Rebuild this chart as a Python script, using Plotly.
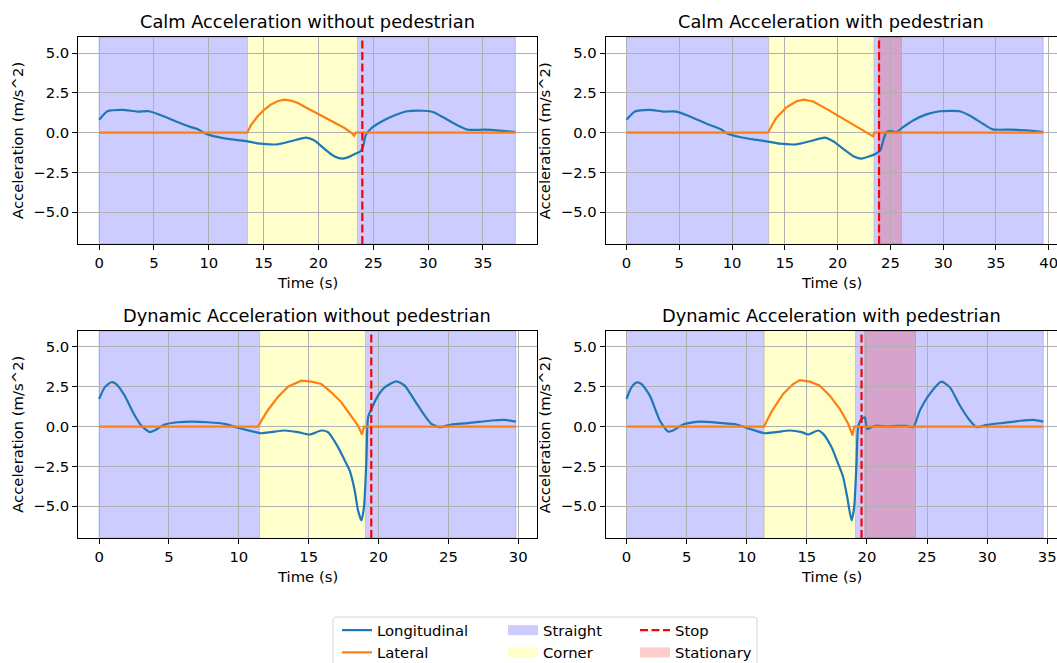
import plotly.graph_objects as go

W, H = 1057, 663

# ---------------- data ----------------
titles = ["Calm Acceleration without pedestrian", "Calm Acceleration with pedestrian",
          "Dynamic Acceleration without pedestrian", "Dynamic Acceleration with pedestrian"]

# Calm, without pedestrian
calm_np_lon_t = [0, 0.76, 2.13, 3.5, 4.56, 5.93, 7.14, 8.36, 8.96, 9.57, 10.18, 11.09, 12.31, 13.52, 14.44,
                 16.26, 17.47, 18.84, 19.6, 20.51, 21.43, 22.24, 22.79, 23.4, 23.86, 24.1, 24.3, 24.77, 25.68,
                 26.9, 28.1, 29.6, 30.5, 31.45, 32.7, 33.6, 35.1, 36.3, 37.95]
calm_np_lon_v = [0.81, 1.35, 1.44, 1.33, 1.35, 1.02, 0.67, 0.35, 0.23, 0.0, -0.17, -0.31, -0.44, -0.54, -0.67,
                 -0.73, -0.54, -0.31, -0.48, -1.0, -1.48, -1.63, -1.52, -1.31, -1.15, -0.79, -0.17, 0.25, 0.67,
                 1.08, 1.35, 1.38, 1.29, 0.94, 0.46, 0.19, 0.19, 0.15, 0.04]
calm_np_lat_t = [0, 13.5, 13.83, 14.44, 15.04, 15.65, 16.26, 16.87, 17.47, 18.08, 18.69, 19.15, 19.6, 20.51,
                 21.43, 22.34, 23.1, 23.25, 23.4, 37.95]
calm_np_lat_v = [0, 0, 0.46, 1.02, 1.44, 1.77, 1.98, 2.08, 2.02, 1.88, 1.65, 1.48, 1.35, 1.02,
                 0.67, 0.31, -0.06, -0.19, 0, 0]

# Calm, with pedestrian
calm_p_lon_t = [0, 0.79, 2.2, 3.47, 4.73, 6.0, 7.6, 8.84, 9.6, 10.73, 12.0, 13.25, 14.5, 16.1, 17.36, 18.78,
                19.57, 20.5, 21.6, 22.25, 23.04, 23.67, 24.05, 24.37, 24.62, 25.1, 25.57, 26.2, 27.15, 28.4,
                29.67, 31.56, 32.5, 33.77, 34.7, 36.3, 37.9, 39.47]
calm_p_lon_v = [0.81, 1.33, 1.44, 1.33, 1.33, 1.02, 0.56, 0.25, -0.06, -0.27, -0.42, -0.54, -0.69, -0.73, -0.54,
                -0.31, -0.54, -1.0, -1.52, -1.63, -1.48, -1.31, -1.1, -0.38, 0.04, 0.1, 0.04, 0.35, 0.77, 1.15,
                1.35, 1.35, 1.08, 0.56, 0.21, 0.19, 0.15, 0.04]
calm_p_lat_t = [0, 13.41, 13.8, 14.2, 15.15, 16.1, 16.8, 17.68, 18.94, 20.2, 21.47, 22.57, 23.36, 23.45, 39.47]
calm_p_lat_v = [0, 0, 0.5, 0.94, 1.6, 1.98, 2.08, 1.96, 1.5, 1.02, 0.52, 0.1, -0.23, 0, 0]

# Dynamic, without pedestrian
dyn_np_lon_t = [0, 0.4, 0.87, 1.23, 1.83, 2.42, 3.02, 3.62, 3.97, 4.69, 5.65, 6.6, 7.79, 8.98, 9.94, 10.9,
                11.6, 12.33, 13.28, 14.23, 15.07, 15.9, 16.38, 17.1, 17.58, 17.93, 18.29, 18.53, 18.77, 18.96,
                19.13, 19.25, 19.49, 19.96, 20.44, 21.28, 21.87, 22.59, 23.3, 23.78, 24.38, 25.2, 26.4, 28.07,
                29.0, 29.83]
dyn_np_lon_v = [1.73, 2.46, 2.78, 2.67, 1.94, 0.9, 0.06, -0.35, -0.25, 0.13, 0.27, 0.31, 0.27, 0.17, -0.08, -0.29,
                -0.42, -0.35, -0.25, -0.35, -0.5, -0.25, -0.35, -1.29, -2.13, -2.76, -4.0, -5.26, -5.89, -5.05,
                -2.13, 0.58, 1.1, 1.94, 2.46, 2.84, 2.57, 1.63, 0.69, 0.17, -0.04, 0.13, 0.21, 0.38,
                0.42, 0.31]
dyn_np_lat_t = [0, 11.37, 11.7, 12.09, 12.81, 13.52, 14.47, 15.19, 15.9, 16.62, 17.34, 18.05, 18.53, 18.82,
                18.96, 29.83]
dyn_np_lat_v = [0, 0, 0.5, 1.04, 1.88, 2.5, 2.88, 2.82, 2.67, 2.15, 1.52, 0.69, 0.06, -0.5, 0, 0]

# Dynamic, with pedestrian
dyn_p_lon_t = [0, 0.41, 0.83, 1.24, 1.94, 2.77, 3.46, 3.88, 4.71, 6.1, 7.76, 9.15, 10.26, 11.5, 12.48, 13.59,
               14.56, 15.11, 15.94, 16.36, 17.05, 17.61, 18.02, 18.36, 18.72, 18.94, 19.13, 19.27, 19.55, 19.82,
               20.02, 20.38, 20.8, 21.63, 22.46, 23.29, 23.85, 24.4, 25.23, 26.2, 26.9, 27.73, 28.56, 29.12,
               29.95, 31.33, 33.0, 33.83, 34.67]
dyn_p_lon_v = [1.73, 2.46, 2.76, 2.67, 1.94, 0.38, -0.31, -0.25, 0.13, 0.31, 0.23, 0.13, -0.15, -0.42, -0.35, -0.25,
               -0.35, -0.5, -0.25, -0.46, -1.29, -2.34, -3.17, -4.43, -5.89, -5.05, -2.34, -0.04, 0.48, 0.58,
               -0.15, -0.04, 0.06, 0.0, 0.04, 0.04, -0.04, 1.0, 2.05, 2.82, 2.46, 1.32, 0.38, -0.04,
               0.1, 0.23, 0.38, 0.42, 0.31]
dyn_p_lat_t = [0, 11.44, 11.8, 12.2, 13.03, 13.86, 14.42, 15.25, 16.08, 16.91, 17.75, 18.44, 18.8, 18.94, 34.67]
dyn_p_lat_v = [0, 0, 0.55, 1.1, 2.05, 2.67, 2.92, 2.82, 2.57, 1.94, 1.1, 0.17, -0.56, 0, 0]

# phases (start, end) in seconds
straight_spans = [[(0, 13.53), (23.55, 37.95)], [(0, 13.47), (23.45, 39.47)],
                  [(0, 11.49), (19.06, 29.83)], [(0, 11.45), (19.05, 34.67)]]
corner_spans = [[(13.53, 23.55)], [(13.47, 23.45)], [(11.49, 19.06)], [(11.45, 19.05)]]
stationary_spans = [[], [(23.9, 26.04)], [], [(19.82, 24.04)]]
stop_times = [24.0, 23.92, 19.48, 19.55]

# ---------------- styling ----------------
BLUE = "#1f77b4"
ORANGE = "#ff7f0e"
STRAIGHT = "rgba(0,0,255,0.2)"
CORNER = "rgba(255,255,0,0.2)"
STAT = "rgba(255,0,0,0.2)"
FONT = "DejaVu Sans"
FS = 14.8      # tick / label / legend font size
FT = 17.8      # title font size
LW = 2.2

# axes boxes in pixels (x0, x1, ytop, ybottom) and x ranges
boxes = [(78.3, 536.7, 37.3, 244.0), (605.7, W, 37.3, 244.0),
         (78.3, 536.7, 331.0, 538.0), (605.7, W, 331.0, 538.0)]
xranges = [[-1.9, 39.9], [-1.974, 40.78], [-1.49, 31.32], [-1.73, 35.81]]
yrange = [-7, 6]

lon_t = [calm_np_lon_t, calm_p_lon_t, dyn_np_lon_t, dyn_p_lon_t]
lon_v = [calm_np_lon_v, calm_p_lon_v, dyn_np_lon_v, dyn_p_lon_v]
lat_t = [calm_np_lat_t, calm_p_lat_t, dyn_np_lat_t, dyn_p_lat_t]
lat_v = [calm_np_lat_v, calm_p_lat_v, dyn_np_lat_v, dyn_p_lat_v]

fig = go.Figure()
shapes = []
annotations = []
layout = {}

for i in range(4):
    sfx = "" if i == 0 else str(i + 1)
    xa, ya = "x" + sfx, "y" + sfx
    x0, x1, yt, yb = boxes[i]
    right_col = i in (1, 3)
    layout["xaxis" + sfx] = dict(
        domain=[x0 / W, x1 / W], range=xranges[i], anchor=ya,
        tick0=0, dtick=5, ticks="outside", ticklen=5, tickwidth=1.1, tickcolor="black",
        showline=True, linecolor="black", linewidth=1.1, mirror=True,
        showgrid=True, gridcolor="#b0b0b0", gridwidth=0.8, zeroline=False,
        ticklabeloverflow="allow",
        tickfont=dict(family=FONT, size=FS, color="black"), fixedrange=True)
    layout["yaxis" + sfx] = dict(
        domain=[1 - yb / H, 1 - yt / H], range=yrange, anchor=xa,
        tick0=0, dtick=2.5, tickformat=".1f", ticks="outside", ticklen=5, tickwidth=1.1, tickcolor="black",
        showline=True, linecolor="black", linewidth=1.1, mirror=(not right_col),
        showgrid=True, gridcolor="#b0b0b0", gridwidth=0.8, zeroline=False,
        tickfont=dict(family=FONT, size=FS, color="black"), fixedrange=True)

    for (a, b) in straight_spans[i]:
        shapes.append(dict(type="rect", xref=xa, yref=ya + " domain", x0=a, x1=b, y0=0, y1=1,
                           fillcolor=STRAIGHT, line=dict(color=STRAIGHT, width=1), layer="below"))
    for (a, b) in corner_spans[i]:
        shapes.append(dict(type="rect", xref=xa, yref=ya + " domain", x0=a, x1=b, y0=0, y1=1,
                           fillcolor=CORNER, line=dict(color=CORNER, width=1), layer="below"))
    for (a, b) in stationary_spans[i]:
        shapes.append(dict(type="rect", xref=xa, yref=ya + " domain", x0=a, x1=b, y0=0, y1=1,
                           fillcolor=STAT, line=dict(color=STAT, width=1), layer="below"))

    fig.add_trace(go.Scatter(x=lon_t[i], y=lon_v[i], mode="lines", name="Longitudinal",
                             line=dict(color=BLUE, width=LW, shape="spline", smoothing=0.6),
                             xaxis=xa, yaxis=ya, showlegend=(i == 0), legend="legend"))
    fig.add_trace(go.Scatter(x=lat_t[i], y=lat_v[i], mode="lines", name="Lateral",
                             line=dict(color=ORANGE, width=LW),
                             xaxis=xa, yaxis=ya, showlegend=(i == 0), legend="legend"))
    fig.add_trace(go.Scatter(x=[stop_times[i], stop_times[i]], y=yrange, mode="lines", name="Stop",
                             line=dict(color="red", width=LW, dash="8px,3.5px"),
                             xaxis=xa, yaxis=ya, showlegend=False, hoverinfo="skip"))

    cx = (x0 + min(x1, x0 + 458.4)) / 2
    annotations.append(dict(text=titles[i], xref="paper", yref="paper", x=cx / W, y=1 - (yt - 16) / H,
                            xanchor="center", yanchor="middle", showarrow=False,
                            font=dict(family=FONT, size=FT, color="black")))
    annotations.append(dict(text="Time (s)", xref="paper", yref="paper", x=cx / W, y=1 - (yb + 38) / H,
                            xanchor="center", yanchor="middle", showarrow=False,
                            font=dict(family=FONT, size=FS, color="black")))
    annotations.append(dict(text="Acceleration (m/s^2)", xref="paper", yref="paper",
                            x=(x0 - 61) / W, y=1 - ((yt + yb) / 2) / H, textangle=-90,
                            xanchor="center", yanchor="middle", showarrow=False,
                            font=dict(family=FONT, size=FS, color="black")))

# legend-only entries (thick lines give 30x10 patch icons)
fig.add_trace(go.Scatter(x=[None], y=[None], mode="lines", name="Straight",
                         line=dict(color=STRAIGHT, width=10), legend="legend2"))
fig.add_trace(go.Scatter(x=[None], y=[None], mode="lines", name="Corner",
                         line=dict(color=CORNER, width=10), legend="legend2"))
fig.add_trace(go.Scatter(x=[None], y=[None], mode="lines", name="Stop",
                         line=dict(color="red", width=LW, dash="8px,3.5px"), legend="legend3"))
fig.add_trace(go.Scatter(x=[None], y=[None], mode="lines", name="Stationary",
                         line=dict(color=STAT, width=10), legend="legend3"))

leg_common = dict(yanchor="top", xanchor="left", y=1 - 614 / H, bgcolor="rgba(0,0,0,0)",
                  borderwidth=0, font=dict(family=FONT, size=FS, color="black"),
                  tracegroupgap=0, itemwidth=30, orientation="v")

# legend frame
lx0, lx1, ly0, ly1 = 333 / W, 757 / W, 1 - 617 / H, 1 - 672 / H
rx, ry = 3 / W, 3 / H
frame = (f"M{lx0 + rx},{ly0} L{lx1 - rx},{ly0} Q{lx1},{ly0} {lx1},{ly0 - ry} L{lx1},{ly1} "
         f"L{lx0},{ly1} L{lx0},{ly0 - ry} Q{lx0},{ly0} {lx0 + rx},{ly0} Z")
shapes.append(dict(type="path", xref="paper", yref="paper", path=frame,
                   line=dict(color="#d6d6d6", width=1), fillcolor="rgba(255,255,255,0.8)", layer="above"))

fig.update_layout(
    width=W, height=H, autosize=False, margin=dict(l=0, r=0, t=0, b=0, autoexpand=False),
    paper_bgcolor="white", plot_bgcolor="white",
    font=dict(family=FONT, size=FS, color="black"),
    shapes=shapes, annotations=annotations, showlegend=True,
    legend=dict(x=337 / W, **leg_common),
    legend2=dict(x=503 / W, **leg_common),
    legend3=dict(x=635 / W, **leg_common),
    **layout)

fig.write_html("out.html")
